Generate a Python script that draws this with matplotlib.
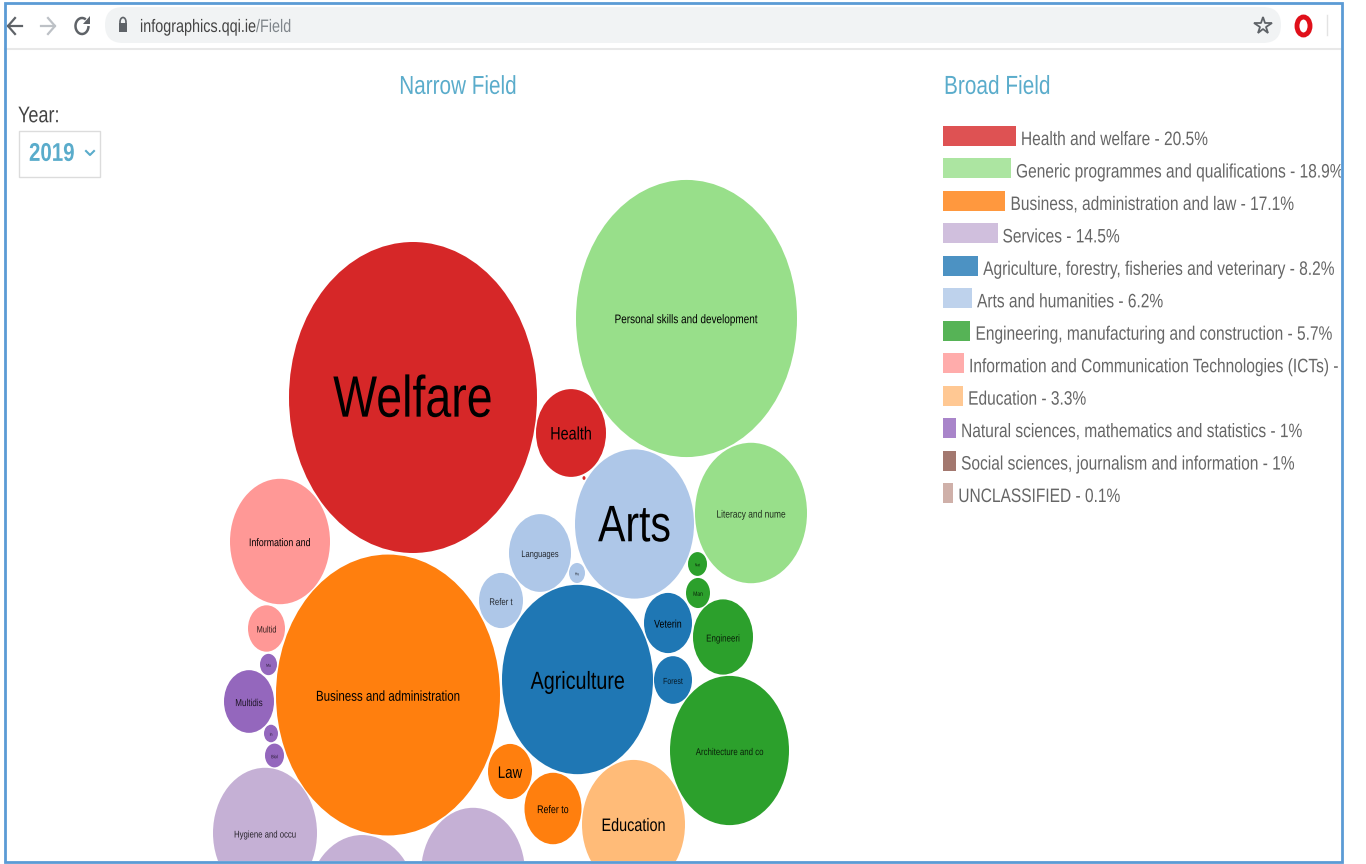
"""Recreates the QQI infographics bubble chart screenshot (narrow field / broad field)"""
import matplotlib
matplotlib.use('Agg')
import matplotlib.pyplot as plt
from matplotlib.patches import Arc, Ellipse, Polygon, Rectangle, FancyBboxPatch
from matplotlib.patheffects import AbstractPathEffect
from matplotlib.transforms import Affine2D

plt.rcParams['font.family'] = ['Liberation Sans', 'DejaVu Sans']

# Broad fields, legend order
broad_names = ['Health and welfare', 'Generic programmes and qualifications',
               'Business, administration and law', 'Services',
               'Agriculture, forestry, fisheries and veterinary', 'Arts and humanities',
               'Engineering, manufacturing and construction',
               'Information and Communication Technologies (ICTs)', 'Education',
               'Natural sciences, mathematics and statistics',
               'Social sciences, journalism and information', 'UNCLASSIFIED']
broad_share = [20.5, 18.9, 17.1, 14.5, 8.2, 6.2, 5.7, 3.6, 3.3, 1, 1, 0.1]
broad_share_text = ['20.5', '18.9', '17.1', '14.5', '8.2', '6.2', '5.7', '3.6', '3.3', '1', '1', '0.1']
broad_colors = ['#d62728', '#98df8a', '#ff7f0e', '#c5b0d5', '#1f77b4', '#aec7e8',
                '#2ca02c', '#ff9896', '#ffbb78', '#9467bd', '#8c564b', '#c49c94']

# Narrow fields: label, broad field index, bubble radius and bubble centre
narrow_labels = ['Welfare', 'Health', '', 'Personal skills and development', 'Literacy and nume',
                 'Business and administration', 'Law', 'Refer to', 'Hygiene and occu', '', '',
                 'Agriculture', 'Veterin', 'Forest', 'Arts', 'Languages', 'Refer t', 'Hu',
                 'Architecture and co', 'Engineeri', 'Man', 'Nat', 'Information and', 'Multid',
                 'Education', 'Multidis', 'Mu', 'In', 'Biol']
narrow_broad = [0, 0, 0, 1, 1, 2, 2, 2, 3, 3, 3, 4, 4, 4, 5, 5, 5, 5, 6, 6, 6, 6, 7, 7, 8, 9, 9, 9, 9]
narrow_radius = [124, 35, 1.5, 110.5, 56, 112, 22, 28.5, 52, 55, 52, 75.5, 24, 19, 59.5, 31, 22, 8,
                 59.5, 30, 12, 9.5, 50, 18.5, 51.5, 25, 8.5, 7, 9.5]
bubble_x = [413, 571, 584, 686.5, 751, 388, 510, 553, 265, 362, 473, 577.5, 668, 673, 634.5, 540,
            501, 577, 729.5, 723, 698, 697.5, 280, 266.5, 633.5, 249, 268.5, 271, 274.5]
bubble_y = [397.5, 433, 478, 318.5, 513, 695, 771.5, 808.5, 833, 904, 873, 679.5, 623, 680, 524,
            553, 600.5, 573, 750.5, 637, 593, 564, 541.5, 628.5, 824.5, 701.5, 664.5, 733.5, 755.5]

label_sizes = [42, 13, 1, 9, 7.6, 10.4, 12, 8, 7, 1, 1, 17.8, 8, 6.3, 37, 6.8, 7, 3,
               7.1, 7.2, 4.5, 3, 8, 6.7, 13, 7.3, 3, 3, 3.5]

STRETCH = 1.254  # the screenshot is stretched vertically
TEAL = '#5aaccb'
GREY = '#666666'


class Squeeze(AbstractPathEffect):
    """Narrow a text around its anchor, same distortion as the stretched screenshot"""

    def __init__(self, anchor_x, factor=1 / STRETCH):
        super().__init__()
        self.anchor_x = anchor_x
        self.factor = factor

    def draw_path(self, renderer, gc, tpath, affine, rgbFace=None):
        squeeze = Affine2D().translate(-self.anchor_x, 0).scale(self.factor, 1).translate(self.anchor_x, 0)
        renderer.draw_path(gc, tpath, affine + squeeze, rgbFace)


def put_text(ax, x, y, s, fontsize, **kwargs):
    """Text squeezed around x (axes data x is the same as pixels here)"""
    # centre on the letters, not on the line box
    y_shift = 1 + 0.075 * fontsize
    return ax.text(x, y + y_shift, s, fontsize=fontsize, va='center',
                   path_effects=[Squeeze(x)], **kwargs)


fig = plt.figure(figsize=(13.66, 8.64), dpi=100)
ax = fig.add_axes([0, 0, 1, 1])
ax.set_xlim(0, 1366)
ax.set_ylim(864, 0)
ax.axis('off')

# Page area, everything gets cut at the window border
page = Rectangle((5, 3), 1336, 858, facecolor='white', edgecolor='none', zorder=0)
ax.add_patch(page)

# Browser bar
ax.add_patch(FancyBboxPatch((105, 7), 1176, 36, boxstyle='round,pad=0,rounding_size=18',
                            facecolor='#f1f3f4', edgecolor='none', zorder=1))
ax.plot([5, 1341], [48.5, 48.5], color='#e8e8e8', lw=1.5, zorder=1)
ax.plot([8, 22], [26, 26], color='#5f6368', lw=1.6, zorder=2)
ax.plot([15, 8, 15], [18, 26, 34], color='#5f6368', lw=1.6, zorder=2)
ax.plot([41, 55], [26, 26], color='#bdc1c6', lw=1.6, zorder=2)
ax.plot([48, 55, 48], [18, 26, 34], color='#bdc1c6', lw=1.6, zorder=2)
ax.add_patch(Arc((82, 26), 13, 16, theta1=0, theta2=300, edgecolor='#5f6368', lw=1.8, zorder=2))
ax.add_patch(Polygon([(90, 16), (90, 24), (83, 24)], closed=True, facecolor='#5f6368',
                     edgecolor='none', zorder=3))
ax.add_patch(Rectangle((119, 23), 8, 9, facecolor='#5f6368', edgecolor='none', zorder=2))
ax.add_patch(Ellipse((123, 22), 6, 9, fill=False, edgecolor='#5f6368', lw=1.2, zorder=2))
put_text(ax, 140, 25.5, 'infographics.qqi.ie', 13, color='#444444', zorder=3)
put_text(ax, 256, 25.5, '/Field', 13, color='#80868b', zorder=3)
ax.plot([1262.5], [26], marker='*', ms=13, mfc='none', mec='#5f6368', mew=1.3, zorder=3)
ax.add_patch(Ellipse((1303.5, 26), 13, 18, fill=False, edgecolor='#e0101a', lw=3.5, zorder=3))
ax.plot([1327, 1327], [15, 35], color='#e3e3e3', lw=1, zorder=2)

# Year selector
put_text(ax, 18, 113.5, 'Year:', 16.3, color='#444444')
ax.add_patch(Rectangle((18.5, 130.5), 81, 46, facecolor='white', edgecolor='#dcdcdc', lw=1))
put_text(ax, 29, 151.5, '2019', 18.5, fontweight='bold', color=TEAL)
ax.plot([86, 90, 94], [151, 155, 151], color=TEAL, lw=1.5)

# Headers
put_text(ax, 458, 84.5, 'Narrow Field', 18.7, color=TEAL, ha='center')
put_text(ax, 944, 84.5, 'Broad Field', 18.8, color=TEAL, ha='left')

# Narrow field bubbles
for i, label in enumerate(narrow_labels):
    bubble = Ellipse((bubble_x[i], bubble_y[i]), 2 * narrow_radius[i], 2 * narrow_radius[i] * STRETCH,
                     facecolor=broad_colors[narrow_broad[i]], edgecolor='none', zorder=2)
    ax.add_patch(bubble)
    bubble.set_clip_path(page)
    if label:
        put_text(ax, bubble_x[i], bubble_y[i], label, label_sizes[i], color='black',
                 alpha=0.8 if label_sizes[i] < 8 else 1, ha='center', zorder=3)

# Broad field legend, bar length follows the share
for i, name in enumerate(broad_names):
    top = 126 + i * 32.45
    width = 10 + 3.07 * broad_share[i]
    ax.add_patch(Rectangle((943, top), width, 20, facecolor=broad_colors[i], alpha=0.8,
                           edgecolor='none', zorder=2))
    legend_text = put_text(ax, 943 + width + 5, top + 12.5, f'{name} - {broad_share_text[i]}%',
                           14.0, color=GREY, zorder=3)
    legend_text.set_clip_on(True)
    legend_text.set_clip_path(page)

# Window border
ax.add_patch(Rectangle((4.5, 2.5), 1337, 859, fill=False, edgecolor='#5b9bd5', lw=2, zorder=5))

fig.savefig('out.png', dpi=100)
plt.close(fig)
